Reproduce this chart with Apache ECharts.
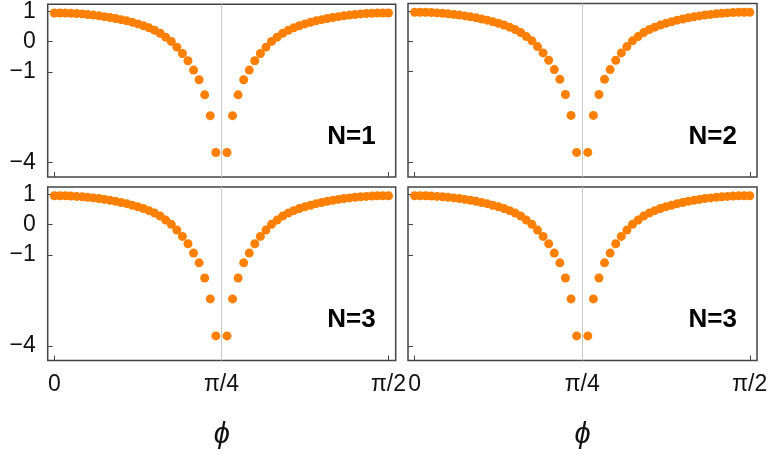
<!DOCTYPE html>
<html>
<head>
<meta charset="utf-8">
<script src="https://cdn.jsdelivr.net/npm/echarts@6/dist/echarts.min.js"></script>
<style>
  html, body { margin: 0; padding: 0; background: #fff; }
  #chart { width: 772px; height: 459px; }
</style>
</head>
<body>
<div id="chart"></div>
<script>
// phi in degrees (phi = 45 is left out, the curve diverges there)
var phiDeg = [0, 1.5, 3, 4.5, 6, 7.5, 9, 10.5, 12, 13.5, 15, 16.5, 18, 19.5, 21, 22.5,
  24, 25.5, 27, 28.5, 30, 31.5, 33, 34.5, 36, 37.5, 39, 40.5, 42, 43.5,
  46.5, 48, 49.5, 51, 52.5, 54, 55.5, 57, 58.5, 60, 61.5, 63, 64.5, 66, 67.5,
  69, 70.5, 72, 73.5, 75, 76.5, 78, 79.5, 81, 82.5, 84, 85.5, 87, 88.5, 90]

// values (all four panels look the same)
var valuesN1 = [0.95, 0.95, 0.95, 0.94, 0.93, 0.92, 0.90, 0.88, 0.86, 0.83, 0.80, 0.77, 0.73, 0.69, 0.64,
  0.59, 0.53, 0.46, 0.38, 0.28, 0.15, 0.01, -0.18, -0.39, -0.63, -0.94, -1.26, -1.76, -2.45, -3.67,
  -3.67, -2.45, -1.76, -1.26, -0.94, -0.63, -0.39, -0.18, 0.01, 0.15, 0.28, 0.38, 0.46, 0.53, 0.59,
  0.64, 0.69, 0.73, 0.77, 0.80, 0.83, 0.86, 0.88, 0.90, 0.92, 0.93, 0.94, 0.95, 0.95, 0.95]
var valuesN2 = valuesN1.slice()
var valuesN3a = valuesN1.slice()
var valuesN3b = valuesN1.slice()

var panelLabels = ['N=1', 'N=2', 'N=3', 'N=3']
var yTicks = [1, 0, -1, -4]
var xTicks = [0, 45, 90]
var xTickText = { 0: '0', 45: 'π/4', 90: 'π/2' }

var panels = [valuesN1, valuesN2, valuesN3a, valuesN3b]
var lefts = [47.7, 408, 47.7, 408]
var tops = [3.5, 3.5, 187, 187]
var widths = [348, 349, 348, 349]
var font = 'Liberation Sans'
var frame = '#444'

var chart = echarts.init(document.getElementById('chart'))

var grids = []
var xAxes = []
var yAxes = []
var series = []
var titles = []

panels.forEach(function (vals, i) {
  var bottomRow = i >= 2
  var leftCol = i % 2 === 0
  grids.push({
    left: lefts[i], top: tops[i], width: widths[i], height: 173.5,
    show: true, borderColor: frame, borderWidth: 1.5, backgroundColor: 'transparent'
  })
  xAxes.push({
    gridIndex: i,
    type: 'value',
    min: -1.78,
    max: 91.94,
    axisLine: { show: false, onZero: false },
    axisTick: { show: true, inside: true, length: 5, customValues: xTicks, lineStyle: { color: frame, width: 1 } },
    axisLabel: {
      show: bottomRow,
      customValues: xTicks,
      margin: 13,
      fontFamily: font,
      fontSize: 23,
      color: '#111',
      formatter: function (v) { return xTickText[v] }
    },
    splitLine: { show: false },
    name: bottomRow ? 'ϕ' : '',
    nameLocation: 'middle',
    nameGap: 60,
    nameTextStyle: { fontFamily: font, fontStyle: 'italic', fontSize: 29, color: '#111' }
  })
  yAxes.push({
    gridIndex: i,
    type: 'value',
    min: -4.48,
    max: 1.24,
    axisLine: { show: false, onZero: false },
    axisTick: { show: true, inside: true, length: 5, customValues: yTicks, lineStyle: { color: frame, width: 1 } },
    axisLabel: {
      show: leftCol,
      customValues: yTicks,
      margin: 12,
      fontFamily: font,
      fontSize: 23,
      color: '#111',
      formatter: function (v) { return v < 0 ? '\u2212' + (-v) : String(v) }
    },
    splitLine: { show: false }
  })
  series.push({
    type: 'scatter',
    xAxisIndex: i,
    yAxisIndex: i,
    symbol: 'circle',
    symbolSize: 9,
    itemStyle: { color: '#ff8000', opacity: 1 },
    data: phiDeg.map(function (p, k) { return [p, vals[k]] }),
    markLine: {
      silent: true,
      symbol: 'none',
      label: { show: false },
      lineStyle: { color: '#c8c8c8', width: 1, type: 'solid' },
      data: [{ xAxis: 45 }]
    }
  })
  titles.push({
    text: panelLabels[i],
    right: 772 - (lefts[i] + widths[i] - 20),
    top: tops[i] + 120,
    padding: 0,
    textStyle: { fontFamily: font, fontWeight: 'bold', fontSize: 26, color: '#000' }
  })
})

chart.setOption({
  animation: false,
  title: titles,
  grid: grids,
  xAxis: xAxes,
  yAxis: yAxes,
  series: series
})
</script>
</body>
</html>
